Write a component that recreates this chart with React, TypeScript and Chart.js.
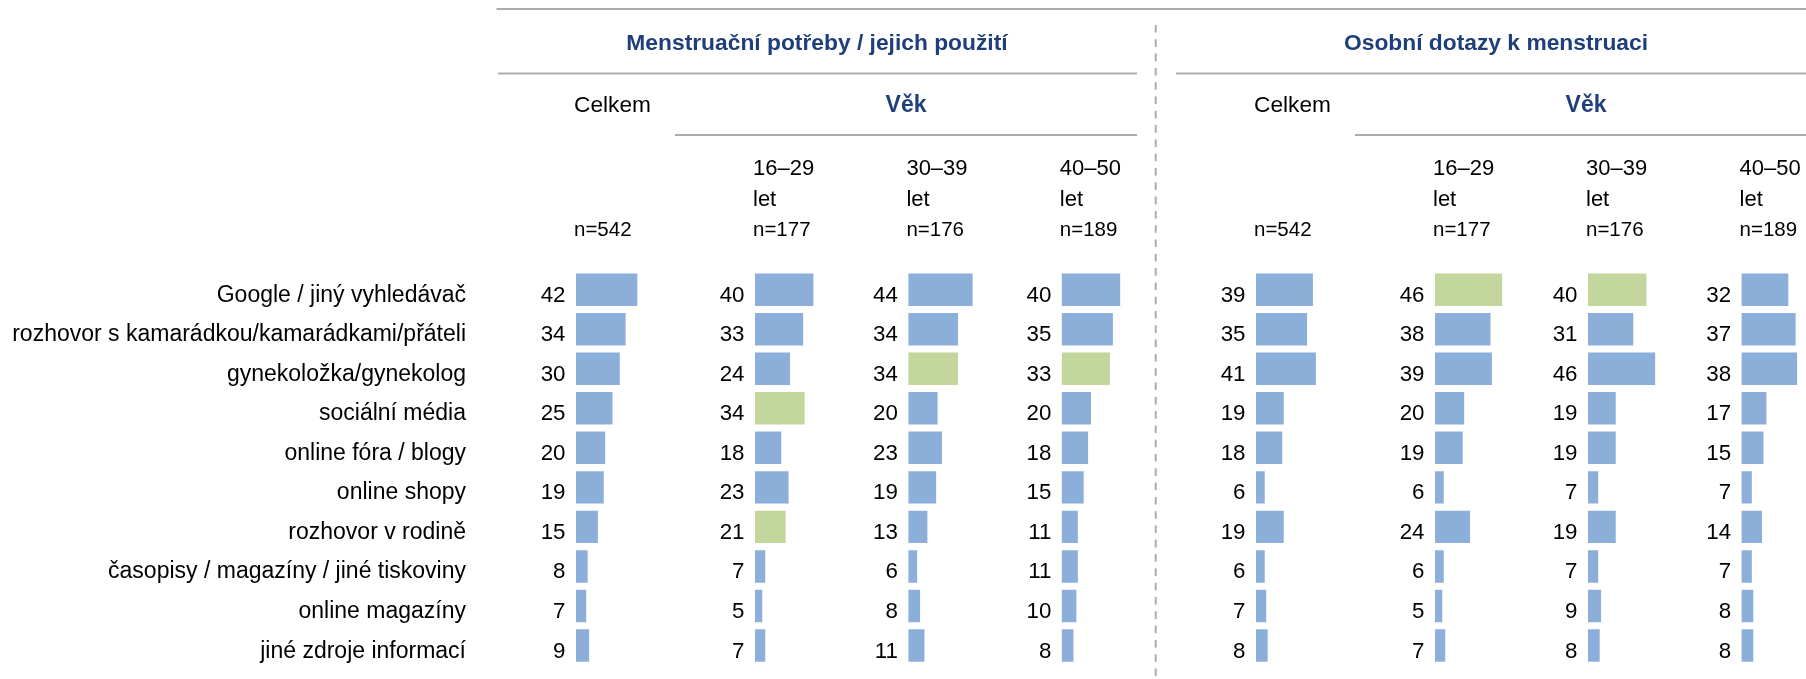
import React, { useEffect, useRef } from "react";
import { Chart, registerables } from "chart.js";

Chart.register(...registerables);

// ---------- data ----------
const categories = [
  "Google / jiný vyhledávač",
  "rozhovor s kamarádkou/kamarádkami/přáteli",
  "gynekoložka/gynekolog",
  "sociální média",
  "online fóra / blogy",
  "online shopy",
  "rozhovor v rodině",
  "časopisy / magazíny / jiné tiskoviny",
  "online magazíny",
  "jiné zdroje informací",
];

const groupTitles = ["Menstruační potřeby / jejich použití", "Osobní dotazy k menstruaci"];
const totalLabel = "Celkem";
const ageGroupLabel = "Věk";
const ageLabels = ["16–29", "30–39", "40–50"];
const ageUnit = "let";
const sampleSizes = ["n=542", "n=177", "n=176", "n=189"];

// Menstruační potřeby / jejich použití
const mpCelkem = [42, 34, 30, 25, 20, 19, 15, 8, 7, 9];
const mp1629 = [40, 33, 24, 34, 18, 23, 21, 7, 5, 7];
const mp3039 = [44, 34, 34, 20, 23, 19, 13, 6, 8, 11];
const mp4050 = [40, 35, 33, 20, 18, 15, 11, 11, 10, 8];
// Osobní dotazy k menstruaci
const odCelkem = [39, 35, 41, 19, 18, 6, 19, 6, 7, 8];
const od1629 = [46, 38, 39, 20, 19, 6, 24, 6, 5, 7];
const od3039 = [40, 31, 46, 19, 19, 7, 19, 7, 9, 8];
const od4050 = [32, 37, 38, 17, 15, 7, 14, 7, 8, 8];

// significantly higher values (highlighted), by row index
const mpCelkemSig: number[] = [];
const mp1629Sig = [3, 6];
const mp3039Sig = [2];
const mp4050Sig = [2];
const odCelkemSig: number[] = [];
const od1629Sig = [0];
const od3039Sig = [0];
const od4050Sig: number[] = [];

const panelValues = [mpCelkem, mp1629, mp3039, mp4050, odCelkem, od1629, od3039, od4050];
const panelSig = [mpCelkemSig, mp1629Sig, mp3039Sig, mp4050Sig, odCelkemSig, od1629Sig, od3039Sig, od4050Sig];

// ---------- layout / style ----------
const W = 1806;
const H = 679;
const PX_PER_UNIT = 1.46;
const BAR_LEFT = [576, 755, 908.4, 1061.8, 1256, 1435, 1588, 1741.6];
const BLUE = "#8CAFDA";
const GREEN = "#C3D69B";
const NAVY = "#1F3F7B";
const LINE = "#ABABAB";
const FONT = '"Liberation Sans", Arial, sans-serif';

const TITLE_CX = [817, 1496];
const VEK_CX = [906, 1586];
const GROUP_LINE_X = [
  [498, 1137],
  [1176, W],
];
const VEK_LINE_X = [
  [675, 1137],
  [1355, W],
];

function text(
  ctx: CanvasRenderingContext2D,
  s: string,
  x: number,
  y: number,
  size: number,
  align: CanvasTextAlign,
  color = "#000",
  bold = false
) {
  ctx.font = `${bold ? "bold " : ""}${size}px ${FONT}`;
  ctx.fillStyle = color;
  ctx.textAlign = align;
  ctx.textBaseline = "alphabetic";
  ctx.fillText(s, x, y);
}

function hline(ctx: CanvasRenderingContext2D, x1: number, x2: number, y: number) {
  ctx.beginPath();
  ctx.strokeStyle = LINE;
  ctx.lineWidth = 2;
  ctx.setLineDash([]);
  ctx.moveTo(x1, y);
  ctx.lineTo(x2, y);
  ctx.stroke();
}

const overlayPlugin = {
  id: "overlay",
  afterDraw(chart: any) {
    const ctx: CanvasRenderingContext2D = chart.ctx;
    const yScale = chart.scales.y;
    ctx.save();

    // rules
    hline(ctx, 496.5, W, 9);
    GROUP_LINE_X.forEach(([a, b]) => hline(ctx, a, b, 73.5));
    VEK_LINE_X.forEach(([a, b]) => hline(ctx, a, b, 135));
    ctx.beginPath();
    ctx.strokeStyle = LINE;
    ctx.lineWidth = 2;
    ctx.setLineDash([7.6, 6.7]);
    ctx.moveTo(1155.7, 25);
    ctx.lineTo(1155.7, H);
    ctx.stroke();
    ctx.setLineDash([]);

    // headers
    groupTitles.forEach((t, g) => {
      text(ctx, t, TITLE_CX[g], 50, 22.8, "center", NAVY, true);
      text(ctx, ageGroupLabel, VEK_CX[g], 112, 23, "center", NAVY, true);
      for (let c = 0; c < 4; c++) {
        const k = g * 4 + c;
        const x = BAR_LEFT[k] - 2;
        if (c === 0) {
          text(ctx, totalLabel, x, 111.7, 22.7, "left");
        } else {
          text(ctx, ageLabels[c - 1], x, 175, 22, "left");
          text(ctx, ageUnit, x, 206, 22, "left");
        }
        text(ctx, sampleSizes[c], x, 235.7, 20.5, "left");
      }
    });

    // row labels
    categories.forEach((c, i) => {
      const y = yScale.getPixelForValue(i) + 12;
      text(ctx, c, 466, y, 23, "right");
    });

    // value labels
    panelValues.forEach((vals, k) => {
      const xs = chart.scales["x" + k];
      const x0 = xs.getPixelForValue(0);
      vals.forEach((v, i) => {
        const y = yScale.getPixelForValue(i) + 12;
        text(ctx, String(v), x0 - 10.5, y, 22.3, "right");
      });
    });

    ctx.restore();
  },
};

export default function App() {
  const ref = useRef<HTMLCanvasElement | null>(null);

  useEffect(() => {
    if (!ref.current) return;
    const scales: any = {
      y: {
        type: "category",
        display: false,
        offset: true,
        grid: { display: false },
      },
    };
    panelValues.forEach((_, k) => {
      scales["x" + k] = {
        type: "linear",
        display: false,
        min: -BAR_LEFT[k] / PX_PER_UNIT,
        max: (W - BAR_LEFT[k]) / PX_PER_UNIT,
        grid: { display: false },
      };
    });

    const chart = new Chart(ref.current, {
      type: "bar",
      data: {
        labels: categories,
        datasets: panelValues.map((vals, k) => ({
          label: "p" + k,
          data: vals,
          xAxisID: "x" + k,
          yAxisID: "y",
          grouped: false,
          barPercentage: 0.82,
          categoryPercentage: 1,
          backgroundColor: vals.map((_, i) => (panelSig[k].includes(i) ? GREEN : BLUE)),
          borderWidth: 0,
        })) as any,
      },
      options: {
        indexAxis: "y",
        responsive: false,
        animation: false,
        events: [],
        layout: { padding: { top: 269.9, bottom: 13.7, left: 0, right: 0 } },
        plugins: { legend: { display: false }, tooltip: { enabled: false } },
        scales,
      } as any,
      plugins: [overlayPlugin],
    });
    return () => chart.destroy();
  }, []);

  return (
    <div style={{ position: "fixed", left: 0, top: 0, width: W, height: H, background: "#fff" }}>
      <canvas ref={ref} width={W} height={H} style={{ display: "block", width: W, height: H }} />
    </div>
  );
}
